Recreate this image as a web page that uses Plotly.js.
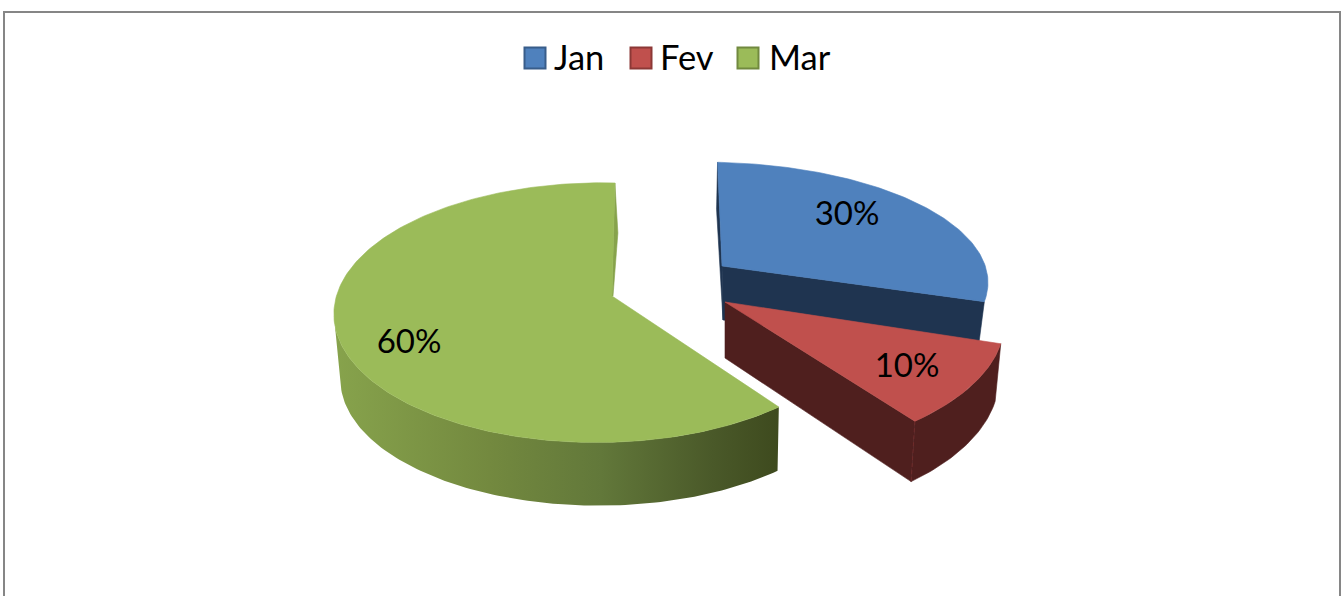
<!DOCTYPE html>
<html><head><meta charset="utf-8">
<script src="https://cdn.plot.ly/plotly-3.0.1.min.js"></script>
<style>html,body{margin:0;padding:0;background:#fff;overflow:hidden}#c{width:1344px;height:596px}</style>
</head><body><div id="c"></div>
<script>
// Chart data
var categories = ['Jan', 'Fev', 'Mar'];
var values = [30, 10, 60];

// Styles
var topColors = ['#4F81BD', '#C0504D', '#9BBB59'];
var edgeColors = ['#385D8A', '#8C3836', '#71893F'];
var wallColors = ['#1F3450', '#4F1F1E', '#87A34C'];
var FONT = 'Lato, Carlito, "Open Sans", sans-serif';

// Projection of every (exploded) slice: centre, apex, radii, perspective
var PV = 0.128, PU = 0.056;
var topRing = [
  {x0: 722, y0: 266, ax: 722, rx: 278, ry: 117, sh: -5},
  {x0: 725, y0: 302, ax: 725, rx: 292, ry: 137, sh: -6},
  {x0: 614, y0: 296, ax: 612, rx: 262, ry: 127.5, sh: 1}
];
var bottomRing = [
  {x0: 723, y0: 320, ax: 723, rx: 271, ry: 110, sh: -1},
  {x0: 725, y0: 358, ax: 725, rx: 286, ry: 142, sh: -6},
  {x0: 615, y0: 362, ax: 615, rx: 257, ry: 125, sh: 0}
];
var labelSpots = [[847, 217], [907, 369], [409, 345]];
var legendSwatchX = [535, 641, 748];
var legendTextX = [554, 660, 769];
var legendY = 58, legendTextY = 61;
var marWallEnd = 262;

function project(r, deg) {
  var a = deg * Math.PI / 180, u = Math.sin(a), v = Math.cos(a);
  var s = 1 / (1 + PV * v + PU * u);
  return [r.x0 + (r.rx * u + r.sh * v) * s, r.y0 - r.ry * v * s];
}
function arc(r, a, b) {
  var pts = [], n = Math.max(2, Math.ceil(Math.abs(b - a)));
  for (var i = 0; i <= n; i++) pts.push(project(r, a + (b - a) * i / n));
  return pts;
}
function poly(pts, color, extra) {
  var p = pts.concat([pts[0]]);
  var t = {
    x: p.map(function (q) { return q[0]; }),
    y: p.map(function (q) { return q[1]; }),
    mode: 'lines', fill: 'toself', fillcolor: color,
    line: {color: color, width: 0.6},
    hoverinfo: 'skip', showlegend: false
  };
  for (var k in extra) t[k] = extra[k];
  return t;
}

var total = values.reduce(function (a, b) { return a + b; }, 0);
var bounds = [], acc = 0;
values.forEach(function (v) { bounds.push([acc / total * 360, (acc + v) / total * 360]); acc += v; });

var apexT = topRing.map(function (r) { return [r.ax, r.y0]; });
var apexB = bottomRing.map(function (r) { return [r.ax, r.y0]; });
var traces = [];

// Mar
var m = 2, mA = bounds[2][0], mB = bounds[2][1];
traces.push(poly(arc(topRing[m], mA, marWallEnd).concat(arc(bottomRing[m], marWallEnd, mA)), '#6B8239', {
  fillgradient: {type: 'horizontal', colorscale: [[0, '#87A34C'], [0.35, '#73893F'], [0.6, '#62783A'], [0.85, '#4A5929'], [1, '#3E4A1E']]},
  line: {color: 'rgba(0,0,0,0)', width: 0}
}));
// inner back sliver of Mar
var tipM = project(topRing[m], mB);
traces.push(poly([tipM, [tipM[0] + 3, tipM[1] + 50], [apexT[m][0] + 1, apexT[m][1]], apexT[m]], wallColors[2]));
traces.push(poly([apexT[m]].concat(arc(topRing[m], mA, mB)), topColors[2]));

// Jan
var j = 0, jA = bounds[0][0], jB = bounds[0][1];
var tipJ = project(topRing[j], jA);
traces.push(poly([tipJ, [tipJ[0] - 1, tipJ[1] + 47], apexB[j], apexT[j]], wallColors[0]));
traces.push(poly([apexT[j], project(topRing[j], jB), project(bottomRing[j], jB), apexB[j]], wallColors[0]));
traces.push(poly([apexT[j]].concat(arc(topRing[j], jA, jB)), topColors[0]));

// Fev
var f = 1, fA = bounds[1][0], fB = bounds[1][1];
traces.push(poly([apexT[f], project(topRing[f], fB), project(bottomRing[f], fB), apexB[f]], wallColors[1]));
traces.push(poly(arc(topRing[f], fA, fB).concat(arc(bottomRing[f], fB, fA)), wallColors[1]));
var c1 = project(topRing[f], fB), c2 = project(bottomRing[f], fB);
traces.push({x: [c1[0], c2[0]], y: [c1[1], c2[1]], mode: 'lines', line: {color: '#6E2B2A', width: 1, dash: '4px,3px'}, hoverinfo: 'skip', showlegend: false});
traces.push(poly([apexT[f]].concat(arc(topRing[f], fA, fB)), topColors[1]));

// Percent labels
traces.push({
  x: labelSpots.map(function (p) { return p[0]; }),
  y: labelSpots.map(function (p) { return p[1]; }),
  text: values.map(function (v) { return Math.round(v / total * 100) + '%'; }),
  mode: 'text', textposition: 'middle center',
  textfont: {family: FONT, size: 33, color: '#000'},
  hoverinfo: 'skip', showlegend: false
});
// Legend
traces.push({
  x: legendSwatchX, y: legendSwatchX.map(function () { return legendY; }),
  mode: 'markers',
  marker: {symbol: 'square', size: 21, color: topColors, line: {color: edgeColors, width: 2}},
  hoverinfo: 'skip', showlegend: false
});
traces.push({
  x: legendTextX, y: legendTextX.map(function () { return legendTextY; }),
  text: categories, mode: 'text', textposition: 'middle right',
  textfont: {family: FONT, size: 34.5, color: '#000'},
  hoverinfo: 'skip', showlegend: false
});

var layout = {
  width: 1344, height: 596,
  margin: {l: 0, r: 0, t: 0, b: 0},
  paper_bgcolor: '#fff', plot_bgcolor: '#fff',
  showlegend: false,
  xaxis: {range: [0, 1344], visible: false, fixedrange: true},
  yaxis: {range: [596, 0], visible: false, fixedrange: true},
  shapes: [{type: 'path', path: 'M4,597 L4,12 L1340,12 L1340,597', line: {color: '#868686', width: 2}, layer: 'below'}]
};
Plotly.newPlot('c', traces, layout, {displayModeBar: false, staticPlot: true});
</script></body></html>
